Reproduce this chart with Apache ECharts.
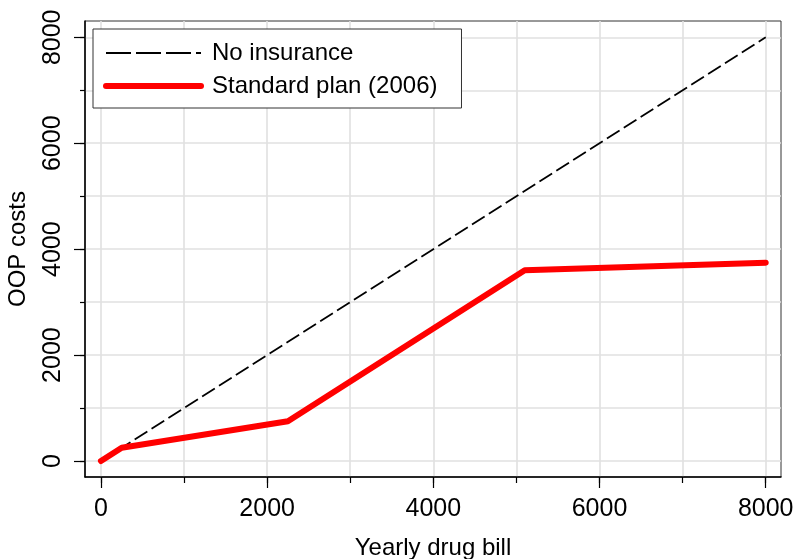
<!DOCTYPE html>
<html>
<head>
<meta charset="utf-8">
<script src="https://cdn.jsdelivr.net/npm/echarts@6/dist/echarts.min.js"></script>
<style>
html,body{margin:0;padding:0;background:#fff;}
#chart{width:793px;height:559px;}
</style>
</head>
<body>
<div id="chart"></div>
<script>
// Data
var noInsuranceX = [0, 8000];
var noInsuranceY = [0, 8000];
var standardX = [0, 250, 2250, 5100, 8000];
var standardY = [0, 250, 750, 3600, 3745];
var seriesNames = ['No insurance', 'Standard plan (2006)'];
var xLabelTicks = [0, 2000, 4000, 6000, 8000];
var xGridTicks = [0, 1000, 2000, 3000, 4000, 5000, 6000, 7000, 8000];
var yLabelTicks = [0, 2000, 4000, 6000, 8000];
var yGridTicks = [0, 1000, 2000, 3000, 4000, 5000, 6000, 7000, 8000];

function zip(xs, ys) { return xs.map(function (x, i) { return [x, ys[i]]; }); }
function plain(v) { return String(v); }

var FONT = 'Liberation Sans, Arial, sans-serif';
var chart = echarts.init(document.getElementById('chart'), null, {renderer: 'canvas'});
var xMin = -192, xMax = 8184, yMin = -302, yMax = 8308;

chart.setOption({
  animation: false,
  backgroundColor: '#fff',
  textStyle: {fontFamily: FONT, color: '#000'},
  grid: {left: 85, right: 12, top: 21, bottom: 82, outerBoundsMode: 'none', containLabel: false,
         show: true, borderColor: '#333', borderWidth: 1, backgroundColor: 'transparent'},
  legend: {
    show: true, orient: 'vertical', left: 93, top: 29,
    backgroundColor: '#fff', borderColor: '#333', borderWidth: 1,
    padding: [12, 24, 10, 10], itemWidth: 95, itemHeight: 8, itemGap: 9, itemTextGap: 12,
    textStyle: {fontSize: 24, fontFamily: FONT, color: '#000', lineHeight: 24, padding: [0, 0, 0, 6]},
    data: [
      {name: seriesNames[0], itemStyle: {opacity: 0}, lineStyle: {color: '#000', width: 1.8, type: [25, 5]}},
      {name: seriesNames[1], itemStyle: {opacity: 0}, lineStyle: {color: '#ff0000', width: 6, cap: 'round'}}
    ]
  },
  xAxis: [
    {
      type: 'value', min: xMin, max: xMax, position: 'bottom',
      name: 'Yearly drug bill', nameLocation: 'middle', nameGap: 59,
      nameTextStyle: {fontSize: 24, color: '#000', fontFamily: FONT},
      axisLine: {show: true, onZero: false, lineStyle: {color: '#000', width: 1.5}},
      axisTick: {show: true, length: 11, customValues: xLabelTicks, lineStyle: {color: '#000', width: 1.2}},
      axisLabel: {show: true, customValues: xLabelTicks, formatter: plain, fontSize: 25, color: '#000', margin: 20, fontFamily: FONT},
      splitLine: {show: false}
    },
    {
      type: 'value', min: xMin, max: xMax, position: 'bottom', offset: 0,
      axisLine: {show: false, onZero: false},
      axisTick: {show: true, length: 6, customValues: xGridTicks, lineStyle: {color: '#000', width: 1.2}},
      axisLabel: {show: false},
      splitLine: {show: true, lineStyle: {color: '#e0e0e0', width: 1.6}}
    }
  ],
  yAxis: [
    {
      type: 'value', min: yMin, max: yMax, position: 'left',
      name: 'OOP costs', nameLocation: 'middle', nameGap: 55, nameRotate: 90,
      nameTextStyle: {fontSize: 24, color: '#000', fontFamily: FONT},
      axisLine: {show: true, onZero: false, lineStyle: {color: '#000', width: 1.5}},
      axisTick: {show: true, length: 11, customValues: yLabelTicks, lineStyle: {color: '#000', width: 1.2}},
      axisLabel: {show: true, customValues: yLabelTicks, formatter: plain, fontSize: 25, color: '#000', margin: 19, rotate: 90, fontFamily: FONT},
      splitLine: {show: false}
    },
    {
      type: 'value', min: yMin, max: yMax, position: 'left', offset: 0,
      axisLine: {show: false, onZero: false},
      axisTick: {show: true, length: 5, customValues: yGridTicks, lineStyle: {color: '#000', width: 1.2}},
      axisLabel: {show: false},
      splitLine: {show: true, lineStyle: {color: '#e0e0e0', width: 1.6}}
    }
  ],
  series: [
    {
      name: seriesNames[0], type: 'line', xAxisIndex: 0, yAxisIndex: 0,
      data: zip(noInsuranceX, noInsuranceY), symbol: 'none',
      lineStyle: {color: '#000', width: 1.8, type: [15, 5]}, itemStyle: {color: '#000'}, z: 3
    },
    {
      name: seriesNames[1], type: 'line', xAxisIndex: 0, yAxisIndex: 0,
      data: zip(standardX, standardY), symbol: 'none',
      lineStyle: {color: '#ff0000', width: 6, cap: 'round', join: 'round'}, itemStyle: {color: '#ff0000'}, z: 4
    }
  ]
});
</script>
</body>
</html>
